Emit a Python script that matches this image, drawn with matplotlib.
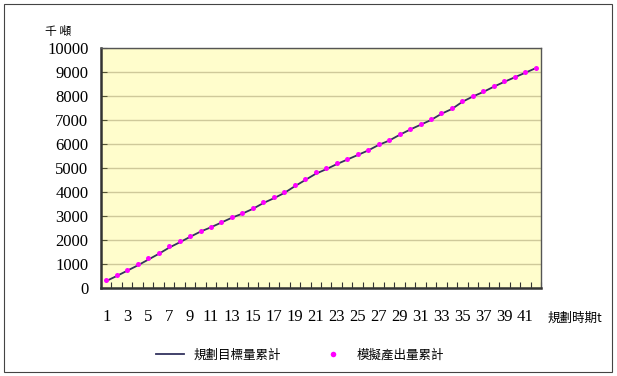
import matplotlib
matplotlib.use("Agg")
import matplotlib.pyplot as plt
from matplotlib.patches import Rectangle
from matplotlib.lines import Line2D

# periods t = 1..42
periods = list(range(1, 43))

# simulated cumulative output (thousand tons)
sim_output = [330, 540, 750, 1000, 1240, 1470, 1750, 1950, 2180, 2375,
              2540, 2750, 2970, 3110, 3330, 3580, 3780, 4000, 4290, 4550,
              4820, 4990, 5200, 5375, 5570, 5750, 5990, 6170, 6410, 6630,
              6830, 7030, 7300, 7510, 7800, 8010, 8200, 8430, 8610, 8800,
              9000, 9180]

# planned target cumulative
target = [290, 500, 720, 940, 1180, 1420, 1680, 1900, 2130, 2350,
          2530, 2730, 2930, 3100, 3300, 3540, 3740, 3960, 4240, 4500,
          4760, 4950, 5160, 5350, 5540, 5730, 5960, 6140, 6380, 6600,
          6800, 7000, 7260, 7460, 7760, 7980, 8170, 8390, 8590, 8780,
          8970, 9160]

xtick_labels = [str(t) for t in range(1, 42, 2)]
yticks = list(range(0, 10001, 1000))

plt.rcParams['font.family'] = ['Liberation Serif', 'Noto Sans CJK TC']
cjk = ['Noto Sans CJK TC', 'DejaVu Sans']

fig = plt.figure(figsize=(6.17, 3.76), dpi=100)
ax = fig.add_axes([101/617, 1 - 288/376, 440/617, 240/376])
ax.set_facecolor('#FFFDCC')

ax.plot(periods, target, color='#33335E', lw=1.3, zorder=3)
ax.plot(periods, sim_output, 'o', color='#FF00FF', ms=3.6, mew=0, zorder=4)

ax.set_xlim(0.5, 42.5)
ax.set_ylim(0, 10000)
ax.set_yticks(yticks)
ax.yaxis.grid(True, color='#CFC99A', lw=1.0)
ax.set_axisbelow(True)

# category boundary ticks (no labels) + odd-period labels
ax.set_xticks([k + 0.5 for k in range(0, 43)])
ax.set_xticklabels([])
ax.set_xticks(list(range(1, 42, 2)), minor=True)
ax.set_xticklabels(xtick_labels, minor=True)
ax.tick_params(axis='x', which='major', direction='in', length=4, color='#333333')
ax.tick_params(axis='x', which='minor', length=0, pad=15, labelsize=12)
ax.tick_params(axis='y', direction='in', length=4, color='#555533', pad=9, labelsize=12)

for s in ax.spines.values():
    s.set_color('#555555')
    s.set_linewidth(1.0)
ax.spines['left'].set_color('#333333')
ax.spines['left'].set_linewidth(1.8)
ax.spines['bottom'].set_color('#333333')
ax.spines['bottom'].set_linewidth(1.8)

fig.text(45/617, 1 - 31/376, '千 噸', family=cjk, fontsize=8.5, va='center')
fig.text(548/617, 1 - 318/376, '規劃時期t', family=cjk, fontsize=9, va='center')

handles = [Line2D([], [], color='#33335E', lw=1.3),
           Line2D([], [], marker='o', ls='none', color='#FF00FF', ms=4, mew=0)]
fig.legend(handles, ['規劃目標量累計', '模擬產出量累計'],
           loc='center', bbox_to_anchor=(300/617, 1 - 355/376), ncol=2,
           frameon=False, prop={'family': cjk, 'size': 9},
           handlelength=2.2, columnspacing=3)

fig.patches.append(Rectangle((4/617, 4/376), 608/617, 368/376,
                             transform=fig.transFigure, fill=False,
                             edgecolor='#444444', lw=0.8))

fig.savefig('out.png', dpi=100)
